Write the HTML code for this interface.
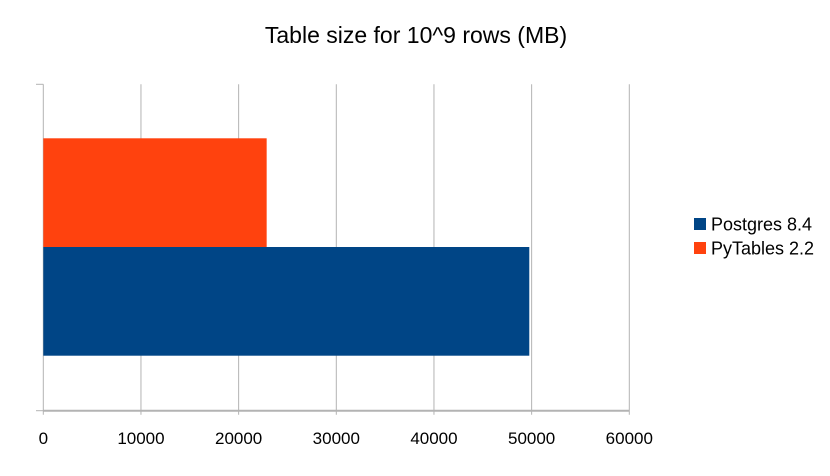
<!DOCTYPE html>
<html><head><meta charset="utf-8"><style>
body{margin:0;background:#fff}
svg{display:block;font-family:"Liberation Sans",sans-serif}
</style></head><body>
<svg id="chart" width="830" height="476">
<text x="416" y="43" text-anchor="middle" font-size="23" fill="#000">Table size for 10^9 rows (MB)</text>
<g id="grid"></g><g id="bars"></g><g id="axis"></g>
<g>
<g><rect x="694" y="218" width="12" height="12" fill="#004586"/><text x="711" y="230.5" font-size="18">Postgres 8.4</text></g>
<g><rect x="694" y="242" width="12" height="12" fill="#ff420e"/><text x="711" y="254.5" font-size="18">PyTables 2.2</text></g>
</g>
</svg>
<script>
const seriesNames=["PyTables 2.2","Postgres 8.4"];
const seriesValues=[22870,49760];
const seriesColors=["#ff420e","#004586"];
const tickValues=[0,10000,20000,30000,40000,50000,60000];
const tickLabels=["0","10000","20000","30000","40000","50000","60000"];
const NS="http://www.w3.org/2000/svg";
const X0=43.3,X1=629.3,YT=84.3,YB=410.7,XMAX=60000;
const x=v=>X0+(X1-X0)*v/XMAX;
const bandTop=138.3,bandH=108.7;
function mk(t,a,p){const e=document.createElementNS(NS,t);for(const k in a)e.setAttribute(k,a[k]);p.appendChild(e);return e;}
const grid=document.getElementById('grid'),bars=document.getElementById('bars'),axis=document.getElementById('axis');
tickValues.forEach((v,i)=>{
 const l=mk('line',{x1:x(v),x2:x(v),y1:YT,y2:YB+4,stroke:'#b3b3b3','stroke-width':1},grid);
 
 
 const t=mk('text',{x:x(v),y:444,'text-anchor':'middle','font-size':17,fill:'#000'},axis);
 t.textContent=tickLabels[i];
 
 
});
[YT,YB].forEach(y=>{const l=mk('line',{x1:36,x2:X0,y1:y,y2:y,stroke:'#b3b3b3','stroke-width':1},grid);
 
 });
const ax=mk('line',{x1:X0,x2:X1,y1:YB,y2:YB,stroke:'#b3b3b3','stroke-width':2},axis);


seriesValues.forEach((v,i)=>{
 const r=mk('rect',{x:X0,y:bandTop+i*bandH,width:x(v)-X0,height:bandH,fill:seriesColors[i]},bars);
 
 
});
</script>
</body></html>
